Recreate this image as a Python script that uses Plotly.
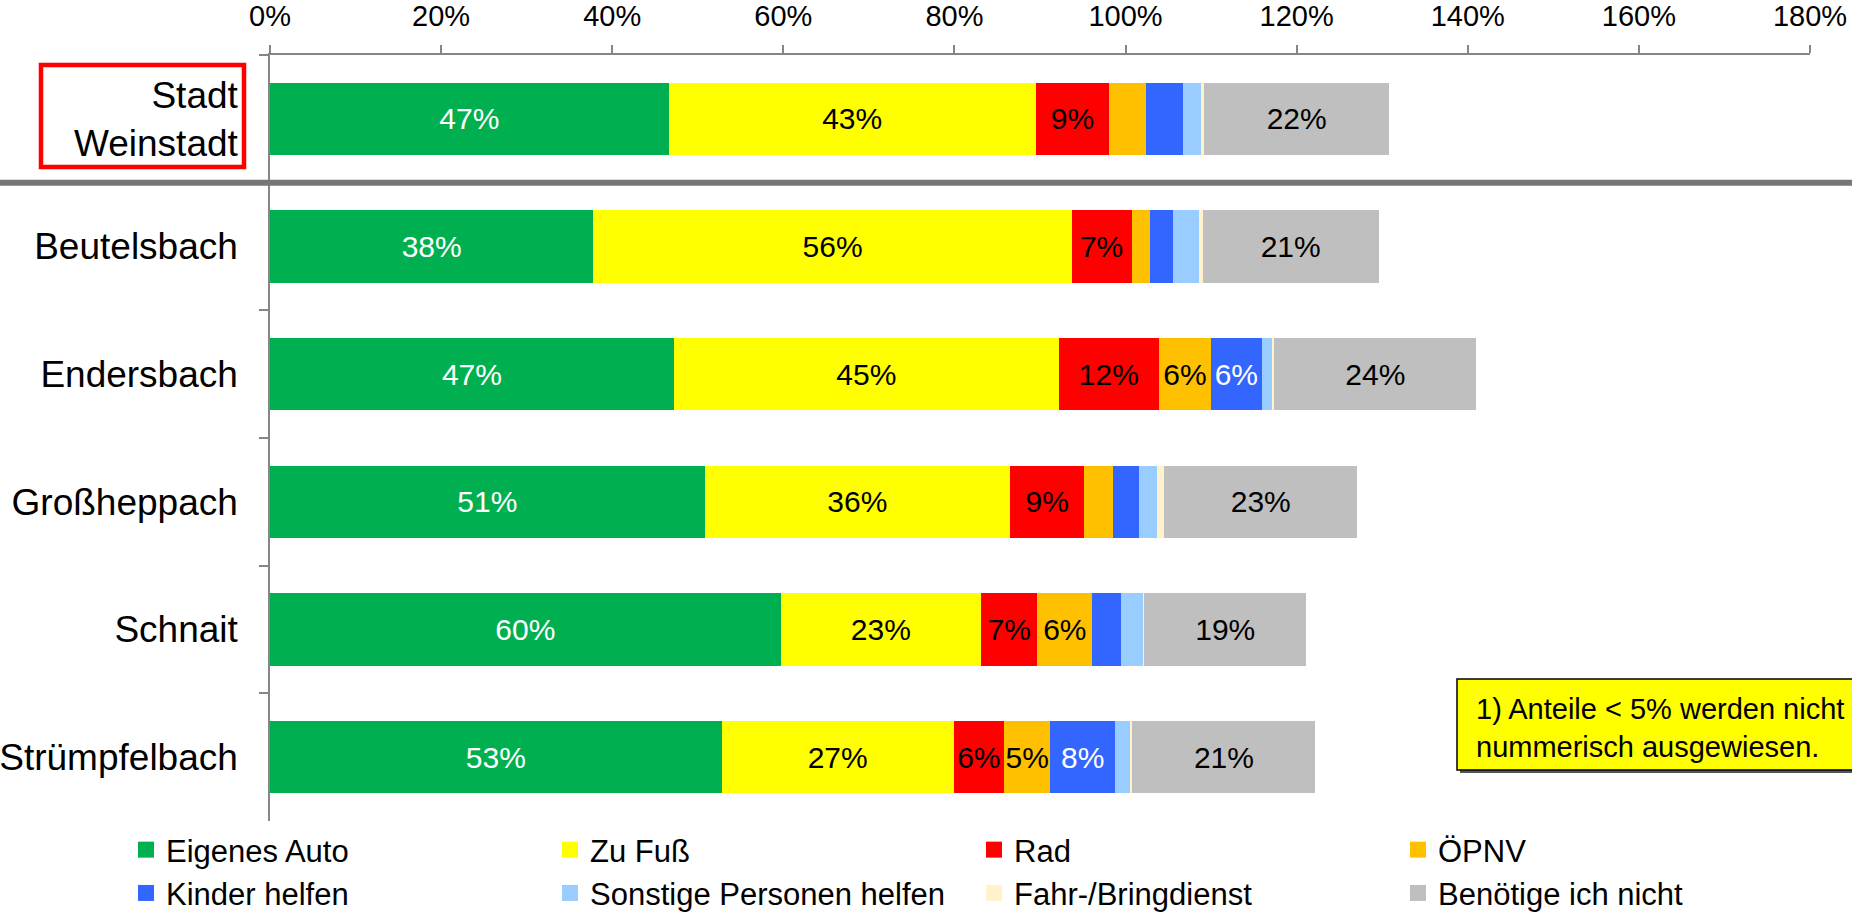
import plotly.graph_objects as go

# ---------------- data ----------------
categories = ["Stadt<br>Weinstadt", "Beutelsbach", "Endersbach", "Großheppach", "Schnait", "Strümpfelbach"]
series_names = ["Eigenes Auto", "Zu Fuß", "Rad", "ÖPNV", "Kinder helfen",
                "Sonstige Personen helfen", "Fahr-/Bringdienst", "Benötige ich nicht"]
eigenes_auto = [46.6, 37.8, 47.2, 50.8, 59.7, 52.8]
zu_fuss      = [42.9, 55.9, 45.0, 35.7, 23.4, 27.1]
rad          = [8.6, 7.0, 11.7, 8.7, 6.6, 5.9]
oepnv        = [4.3, 2.2, 6.1, 3.3, 6.4, 5.4]
kinder       = [4.3, 2.7, 5.9, 3.1, 3.4, 7.6]
sonstige     = [2.1, 3.0, 1.3, 2.1, 2.6, 1.8]
fahrdienst   = [0.4, 0.4, 0.2, 0.8, 0.1, 0.2]
benoetige    = [21.6, 20.6, 23.6, 22.6, 18.9, 21.4]
x_tick_vals   = [0, 20, 40, 60, 80, 100, 120, 140, 160, 180]
x_tick_labels = ["0%", "20%", "40%", "60%", "80%", "100%", "120%", "140%", "160%", "180%"]
note_text = "1) Anteile < 5% werden nicht<br>nummerisch ausgewiesen."
label_threshold = 5

series_values = [eigenes_auto, zu_fuss, rad, oepnv, kinder, sonstige, fahrdienst, benoetige]
colors = ["#00B050", "#FFFF00", "#FF0000", "#FFC000", "#3366FF", "#99CCFF", "#FFF2CC", "#BFBFBF"]
text_colors = ["white", "black", "black", "black", "white", "black", "black", "black"]

FONT = "Liberation Sans, Arial, sans-serif"
W, H = 1852, 913
L, R, T, B = 270, 42, 55, 92
PW, PH = W - L - R, H - T - B

def px_x(x):
    return (x - L) / PW

def px_y(y):
    return (H - B - y) / PH

fig = go.Figure()
for name, vals, col, tcol in zip(series_names, series_values, colors, text_colors):
    fig.add_trace(go.Bar(
        y=categories, x=vals, orientation="h", name=name,
        marker=dict(color=col, line=dict(width=0)),
        text=[f"{round(v)}%" if v >= label_threshold else "" for v in vals],
        textposition="inside", insidetextanchor="middle", textangle=0,
        constraintext="none",
        textfont=dict(family=FONT, size=30, color=tcol),
        showlegend=False, hoverinfo="x+name",
    ))
# legend proxies (square swatches)
for name, col in zip(series_names, colors):
    fig.add_trace(go.Scatter(
        x=[None], y=[None], mode="markers", name=name,
        marker=dict(symbol="square", size=16, color=col),
        showlegend=True,
    ))

shapes = [
    # separator line under "Stadt Weinstadt"
    dict(type="line", xref="paper", yref="y", x0=px_x(0), x1=px_x(W + 10), y0=0.5, y1=0.5,
         line=dict(color="#767676", width=6), layer="above"),
    # red box around Stadt Weinstadt
    dict(type="rect", xref="paper", yref="paper", x0=px_x(41), x1=px_x(244), y0=px_y(167), y1=px_y(65),
         line=dict(color="#FF0000", width=4.5), layer="above"),
    # note box shadow
    dict(type="rect", xref="paper", yref="paper", x0=px_x(1460), x1=px_x(W + 20), y0=px_y(773), y1=px_y(682),
         line=dict(width=0), fillcolor="#555555", layer="above"),
    # note box
    dict(type="rect", xref="paper", yref="paper", x0=px_x(1457), x1=px_x(W + 20), y0=px_y(770), y1=px_y(679),
         line=dict(color="black", width=1.5), fillcolor="#FFFF00", layer="above"),
]

fig.add_annotation(
    xref="paper", yref="paper", x=px_x(1474), y=px_y(728), xanchor="left", yanchor="middle",
    text=note_text, showarrow=False, align="left",
    font=dict(family=FONT, size=29, color="black"),
)

fig.update_layout(
    width=W, height=H,
    margin=dict(l=L, r=R, t=T, b=B, pad=0, autoexpand=False),
    barmode="stack", bargap=0.433,
    plot_bgcolor="white", paper_bgcolor="white",
    font=dict(family=FONT, color="black"),
    shapes=shapes,
    legend=dict(
        orientation="h", x=px_x(126), xanchor="left", y=px_y(823), yanchor="top",
        traceorder="normal", entrywidth=379, entrywidthmode="pixels",
        font=dict(family=FONT, size=31, color="black"),
        bgcolor="rgba(0,0,0,0)", itemclick=False,
    ),
    xaxis=dict(
        side="top", range=[0, 180], tickvals=x_tick_vals, ticktext=x_tick_labels,
        showgrid=False, zeroline=False, showline=True, linecolor="#868686", linewidth=1.5,
        ticks="outside", ticklen=8, tickcolor="#868686", tickwidth=1.5,
        tickfont=dict(family=FONT, size=29, color="black"), ticklabelstandoff=8,
        fixedrange=True,
    ),
    yaxis=dict(
        autorange="reversed", type="category",
        showgrid=False, zeroline=False, showline=True, linecolor="#868686", linewidth=1.5,
        ticks="outside", ticklen=9, tickcolor="#868686", tickwidth=1.5, tickson="boundaries",
        tickfont=dict(family=FONT, size=37, color="black"), ticklabelstandoff=23,
        fixedrange=True,
    ),
)

fig.write_html("out.html", config={"displayModeBar": False},
               post_script="document.body.style.margin='0';document.body.style.overflow='hidden';")
